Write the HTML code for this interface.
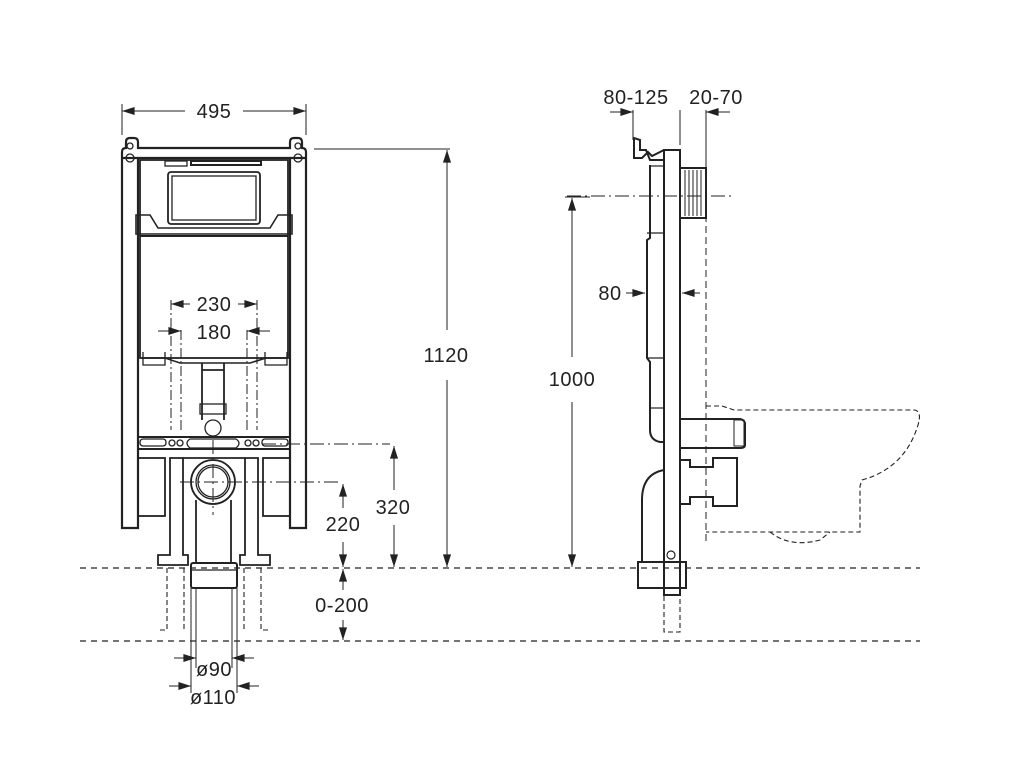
<!DOCTYPE html>
<html><head><meta charset="utf-8"><style>
html,body{margin:0;padding:0;background:#fff}
svg{display:block}
text{font-family:"Liberation Sans",sans-serif;font-size:20px;font-weight:normal;fill:#222;stroke:none;text-anchor:middle;letter-spacing:0.5px}
</style></head><body>
<svg width="1020" height="770" viewBox="0 0 1020 770" xmlns="http://www.w3.org/2000/svg">
<defs>
<marker id="a" viewBox="0 0 14 10" refX="14" refY="5" markerWidth="14" markerHeight="9" orient="auto-start-reverse" markerUnits="userSpaceOnUse"><path d="M0,0.5 L14,5 L0,9.5 z" fill="#222" stroke="none"/></marker>
</defs>
<g stroke="#222" fill="none">
<g stroke-width="1.2" stroke-dasharray="6,5">
<line x1="80" y1="568" x2="920" y2="568"/>
<line x1="80" y1="641" x2="920" y2="641"/>
</g>
<g stroke-width="1">
<line x1="122" y1="104" x2="122" y2="135"/>
<line x1="306" y1="104" x2="306" y2="135"/>
<line x1="122" y1="111" x2="185" y2="111" marker-start="url(#a)"/>
<line x1="243" y1="111" x2="306" y2="111" marker-end="url(#a)"/>
<line x1="314" y1="149" x2="450" y2="149"/>
<line x1="447" y1="330" x2="447" y2="150" marker-end="url(#a)"/>
<line x1="447" y1="380" x2="447" y2="567" marker-end="url(#a)"/>
<line x1="394" y1="490" x2="394" y2="446" marker-end="url(#a)"/>
<line x1="394" y1="525" x2="394" y2="567" marker-end="url(#a)"/>
<line x1="343" y1="508" x2="343" y2="484" marker-end="url(#a)"/>
<line x1="343" y1="542" x2="343" y2="567" marker-end="url(#a)"/>
<line x1="343" y1="590" x2="343" y2="569" marker-end="url(#a)"/>
<line x1="343" y1="620" x2="343" y2="640" marker-end="url(#a)"/>
<line x1="565" y1="197" x2="590" y2="197"/>
<line x1="572" y1="357" x2="572" y2="198" marker-end="url(#a)"/>
<line x1="572" y1="402" x2="572" y2="567" marker-end="url(#a)"/>
<line x1="171" y1="300" x2="171" y2="430" stroke-dasharray="10,3,2,3"/>
<line x1="257" y1="300" x2="257" y2="430" stroke-dasharray="10,3,2,3"/>
<line x1="181" y1="330" x2="181" y2="430" stroke-dasharray="10,3,2,3"/>
<line x1="247" y1="330" x2="247" y2="430" stroke-dasharray="10,3,2,3"/>
<line x1="190" y1="304" x2="171" y2="304" marker-end="url(#a)"/>
<line x1="238" y1="304" x2="257" y2="304" marker-end="url(#a)"/>
<line x1="158" y1="331" x2="181" y2="331" marker-end="url(#a)"/>
<line x1="270" y1="331" x2="247" y2="331" marker-end="url(#a)"/>
<line x1="196" y1="588" x2="196" y2="668"/>
<line x1="232" y1="588" x2="232" y2="668"/>
<line x1="191" y1="588" x2="191" y2="693"/>
<line x1="237" y1="588" x2="237" y2="693"/>
<line x1="174" y1="658" x2="196" y2="658" marker-end="url(#a)"/>
<line x1="254" y1="658" x2="232" y2="658" marker-end="url(#a)"/>
<line x1="169" y1="686" x2="191" y2="686" marker-end="url(#a)"/>
<line x1="259" y1="686" x2="237" y2="686" marker-end="url(#a)"/>
<g stroke-dasharray="14,4,2,4">
<line x1="262" y1="444" x2="390" y2="444"/>
<line x1="180" y1="482" x2="338" y2="482"/>
<line x1="213" y1="440" x2="213" y2="515"/>
<line x1="567" y1="196" x2="735" y2="196"/>
</g>
<line x1="633" y1="110" x2="633" y2="140"/>
<line x1="680" y1="110" x2="680" y2="145"/>
<line x1="706" y1="110" x2="706" y2="160"/>
<line x1="610" y1="112" x2="633" y2="112" marker-end="url(#a)"/>
<line x1="730" y1="112" x2="706" y2="112" marker-end="url(#a)"/>
<line x1="706" y1="160" x2="706" y2="545" stroke-dasharray="7,4"/>
<line x1="626" y1="293" x2="645" y2="293" marker-end="url(#a)"/>
<line x1="700" y1="293" x2="682" y2="293" marker-end="url(#a)"/>
</g>

<g stroke-width="2.2">
<path d="M122,528 V152 Q122,148 126,148 V142 Q126,138 130,138 H134 Q138,138 138,142 V148 H290 V142 Q290,138 294,138 H298 Q302,138 302,142 V148 Q306,148 306,152 V528 H290 V158 H138 V528 Z"/>
<line x1="122" y1="158" x2="138" y2="158"/>
<line x1="290" y1="158" x2="306" y2="158"/>
</g>
<g stroke-width="1.3">
<circle cx="130" cy="158" r="4"/><circle cx="298" cy="158" r="4"/>
<circle cx="130" cy="146" r="3"/><circle cx="298" cy="146" r="3"/>
<rect x="140" y="160" width="148" height="198" stroke-width="1.8"/>
<rect x="165" y="161" width="22" height="5"/><rect x="191" y="161" width="70" height="4" stroke-width="2"/>
<rect x="168" y="172" width="92" height="52" rx="3" stroke-width="1.8"/>
<rect x="172" y="176" width="84" height="44"/>
<path d="M136,215 H150 L158,228 H270 L278,215 H292 V234 H136 Z" stroke-width="1.6"/>
<line x1="140" y1="236" x2="288" y2="236" stroke-width="2"/>
<path d="M142,358 H165 L180,363 H250 L266,358 H288" stroke-width="1.6"/>
<path d="M143,352 V365 H165 V352 M265,352 V365 H287 V352"/>
<path d="M202,363 V420 M224,363 V420 M202,370 H224" stroke-width="1.8"/>
<rect x="200" y="404" width="26" height="10"/>
<circle cx="213" cy="428" r="8"/>
<path d="M138,437 H290 M138,449 H290" stroke-width="2"/>
<rect x="140" y="439" width="26" height="7" rx="3"/><rect x="262" y="439" width="26" height="7" rx="3"/>
<circle cx="172" cy="443" r="3"/><circle cx="180" cy="443" r="3"/>
<circle cx="248" cy="443" r="3"/><circle cx="256" cy="443" r="3"/>
<path d="M190,439 H236 Q242,443 236,448 H190 Q184,443 190,439 Z"/>
<rect x="138" y="458" width="27" height="58" stroke-width="1.8"/>
<rect x="263" y="458" width="27" height="58" stroke-width="1.8"/>
<path d="M170,458 V555 H158 V565 H188 V555 H183 V458 Z" stroke-width="1.8"/>
<path d="M258,458 V555 H270 V565 H240 V555 H245 V458 Z" stroke-width="1.8"/>
<path d="M183,458 H245" stroke-width="1.8"/>
<circle cx="213" cy="482" r="22" stroke-width="1.8"/>
<circle cx="213" cy="482" r="17"/>
<circle cx="213" cy="482" r="15"/>
<path d="M196,500 V563 M231,500 V563" stroke-width="1.8"/>
<rect x="191" y="563" width="46" height="25" rx="2" stroke-width="2"/>
<line x1="191" y1="570" x2="237" y2="570"/>
</g>
<g stroke="#222" fill="none" stroke-width="1.1" stroke-dasharray="5,3">
<path d="M167,568 V630 H158 M184,568 V630"/>
<path d="M244,568 V630 M261,568 V630 H270"/>
<path d="M664,588 V632 H680 V588"/>
<path d="M706,406 H722 L734,410 H915 Q922,412 918,425 Q905,468 862,480 L860,486 V532 H706"/>
<path d="M770,532 Q790,548 820,540 L830,532"/>
</g>

<g stroke="#222" fill="none" stroke-width="2">
<path d="M664,150 H680 V595 H664 Z"/>
<path d="M664,150 L652,156 L648,152 L642,158 H634 V138 L640,140 V150 L646,150 L650,160 H664"/>
<path d="M650,165 V238 L647,240 V358 L650,362 V430 Q650,440 660,442 H664"/>
<line x1="650" y1="166" x2="664" y2="166" stroke-width="1.2"/>
<line x1="647" y1="233" x2="664" y2="233" stroke-width="1.2"/>
<line x1="647" y1="358" x2="664" y2="358" stroke-width="1.2"/>
<line x1="650" y1="408" x2="664" y2="408" stroke-width="1.2"/>
<rect x="680" y="168" width="26" height="50"/>
<g stroke-width="1"><path d="M685,170V216M689,170V216M693,170V216M697,170V216M701,170V216"/></g>
<path d="M680,419 H740 Q745,420 745,424 V445 Q745,448 740,448 H680"/>
<rect x="734" y="420" width="10" height="26" stroke-width="1"/>
<path d="M680,460 H690 V467 H713 V458 H737 V506 H713 V497 H690 V504 H680"/>
<path d="M664,470 Q642,474 642,500 V562"/>
<path d="M638,562 H686 V588 H638 Z"/>
<circle cx="671" cy="555" r="4" stroke-width="1.2"/>
</g>
<line x1="664" y1="270" x2="664" y2="595" stroke="#222" stroke-width="0.8"/>

<g>
<text x="214" y="118">495</text>
<text x="446" y="362">1120</text>
<text x="572" y="386">1000</text>
<text x="393" y="514">320</text>
<text x="343" y="531">220</text>
<text x="342" y="612">0-200</text>
<text x="214" y="311">230</text>
<text x="214" y="339">180</text>
<text x="214" y="676">ø90</text>
<text x="213" y="704">ø110</text>
<text x="636" y="104">80-125</text>
<text x="716" y="104">20-70</text>
<text x="610" y="300">80</text>
</g>
</svg>
</body></html>
